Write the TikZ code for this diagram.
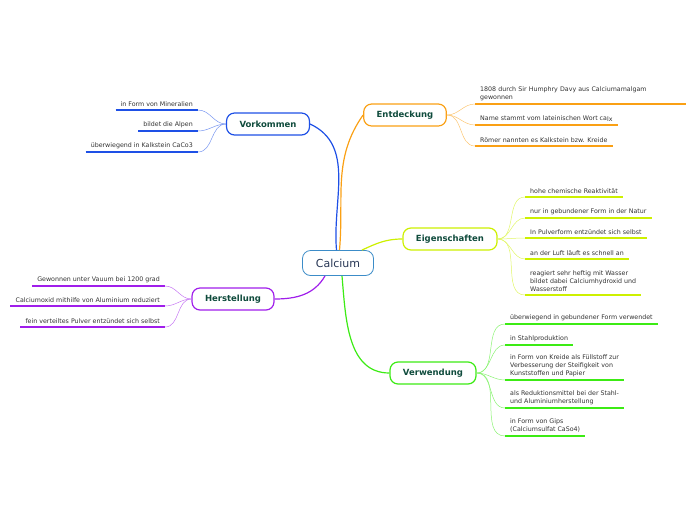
\documentclass[tikz,border=0pt]{standalone}
\usepackage{fontspec}
\setmainfont{DejaVu Sans}
\usepackage{tikz}
\usetikzlibrary{positioning,calc}

\definecolor{centerblue}{RGB}{60,140,200}
\definecolor{centertext}{RGB}{40,55,85}
\definecolor{labelgreen}{RGB}{15,75,60}
\definecolor{leaftext}{RGB}{50,50,50}
\definecolor{ntorange}{RGB}{250,160,20}
\definecolor{ntblue}{RGB}{30,80,230}
\definecolor{ntyellow}{RGB}{205,240,0}
\definecolor{ntpurple}{RGB}{160,30,235}
\definecolor{ntgreen}{RGB}{60,235,20}

\tikzset{
    rootbox/.style={draw=centerblue, line width=0.8pt, rounded corners=8pt, fill=white,
        minimum width=71pt, minimum height=25pt, text=centertext,
        font=\fontsize{11}{13}\selectfont},
    topicbox/.style={draw=#1, line width=1.2pt, rounded corners=8pt, fill=white,
        minimum height=22pt, inner xsep=13pt, text=labelgreen,
        font=\fontsize{8.5}{10}\selectfont\bfseries},
    leafR/.style={anchor=south west, align=left, inner xsep=5pt, inner ysep=3pt,
        text=leaftext, font=\fontsize{6.3}{8}\selectfont},
    leafL/.style={anchor=south east, align=right, inner xsep=5pt, inner ysep=3pt,
        text=leaftext, font=\fontsize{6.3}{8}\selectfont},
    uline/.style={draw=#1, line width=1.6pt},
    twig/.style={draw=#1!60, line width=0.5pt},
    limb/.style={draw=#1, line width=1.2pt}
}

\begin{document}
\begin{tikzpicture}[x=1pt,y=-1pt]
    \useasboundingbox (0,0) rectangle (696,520);

    % main topics
    \node[rootbox] (calc) at (338,263) {Calcium};
    \node[topicbox=ntorange] (ent) at (405,115) {Entdeckung};
    \node[topicbox=ntblue] (vork) at (268,124) {Vorkommen};
    \node[topicbox=ntyellow] (eig) at (450,239) {Eigenschaften};
    \node[topicbox=ntpurple] (her) at (233,299) {Herstellung};
    \node[topicbox=ntgreen] (verw) at (433,373) {Verwendung};

    \draw[limb=ntblue] (vork.east) to[out=-25,in=95] ([xshift=-1.5pt]calc.north);
    \draw[limb=ntorange] ([xshift=1.5pt]calc.north) to[out=85,in=235] (ent.west);
    \draw[limb=ntyellow] ([xshift=-12pt]calc.north east) to[out=25,in=180] (eig.west);
    \draw[limb=ntpurple] ([xshift=-13pt]calc.south) to[out=-120,in=0] (her.east);
    \draw[limb=ntgreen] ([xshift=4pt]calc.south) to[out=-85,in=180] (verw.west);

    % Entdeckung
    \node[leafR, text width=201pt] (e1) at (475,104) {1808 durch Sir Humphry Davy aus Calciumamalgam\\gewonnen};
    \node[leafR] (e2) at (475,125) {Name stammt vom lateinischen Wort ca\raisebox{-1.5pt}{lx}};
    \node[leafR] (e3) at (475,146) {Römer nannten es Kalkstein bzw. Kreide};
    \foreach \n in {e1,e2,e3} {
        \draw[uline=ntorange] (\n.south west) -- (\n.south east);
        \draw[twig=ntorange] (ent.east) to[out=0,in=180] (\n.south west);
    }

    % Eigenschaften
    \node[leafR] (p1) at (525,197) {hohe chemische Reaktivität};
    \node[leafR] (p2) at (525,218) {nur in gebundener Form in der Natur};
    \node[leafR] (p3) at (525,238) {In Pulverform entzündet sich selbst};
    \node[leafR] (p4) at (525,259) {an der Luft läuft es schnell an};
    \node[leafR] (p5) at (525,295) {reagiert sehr heftig mit Wasser\\bildet dabei Calciumhydroxid und\\Wasserstoff};
    \foreach \n in {p1,p2,p3,p4,p5} {
        \draw[uline=ntyellow] (\n.south west) -- (\n.south east);
        \draw[twig=ntyellow] (eig.east) to[out=0,in=180] (\n.south west);
    }

    % Verwendung
    \node[leafR] (v1) at (505,324) {überwiegend in gebundener Form verwendet};
    \node[leafR] (v2) at (505,345) {in Stahlproduktion};
    \node[leafR] (v3) at (505,380) {in Form von Kreide als Füllstoff zur\\Verbesserung der Steifigkeit von\\Kunststoffen und Papier};
    \node[leafR] (v4) at (505,408) {als Reduktionsmittel bei der Stahl-\\und Aluminiumherstellung};
    \node[leafR] (v5) at (505,436) {in Form von Gips\\(Calciumsulfat CaSo4)};
    \foreach \n in {v1,v2,v3,v4,v5} {
        \draw[uline=ntgreen] (\n.south west) -- (\n.south east);
        \draw[twig=ntgreen] (verw.east) to[out=0,in=180] (\n.south west);
    }

    % Vorkommen
    \node[leafL] (k1) at (198,110) {in Form von Mineralien};
    \node[leafL] (k2) at (198,131) {bildet die Alpen};
    \node[leafL] (k3) at (198,152) {überwiegend in Kalkstein CaCo3};
    \foreach \n in {k1,k2,k3} {
        \draw[uline=ntblue] (\n.south west) -- (\n.south east);
        \draw[twig=ntblue] (vork.west) to[out=180,in=0] (\n.south east);
    }

    % Herstellung
    \node[leafL] (h1) at (165,286) {Gewonnen unter Vauum bei 1200 grad};
    \node[leafL] (h2) at (165,306) {Calciumoxid mithilfe von Aluminium reduziert};
    \node[leafL] (h3) at (165,327) {fein verteiltes Pulver entzündet sich selbst};
    \foreach \n in {h1,h2,h3} {
        \draw[uline=ntpurple] (\n.south west) -- (\n.south east);
        \draw[twig=ntpurple] (her.west) to[out=180,in=0] (\n.south east);
    }
\end{tikzpicture}
\end{document}
